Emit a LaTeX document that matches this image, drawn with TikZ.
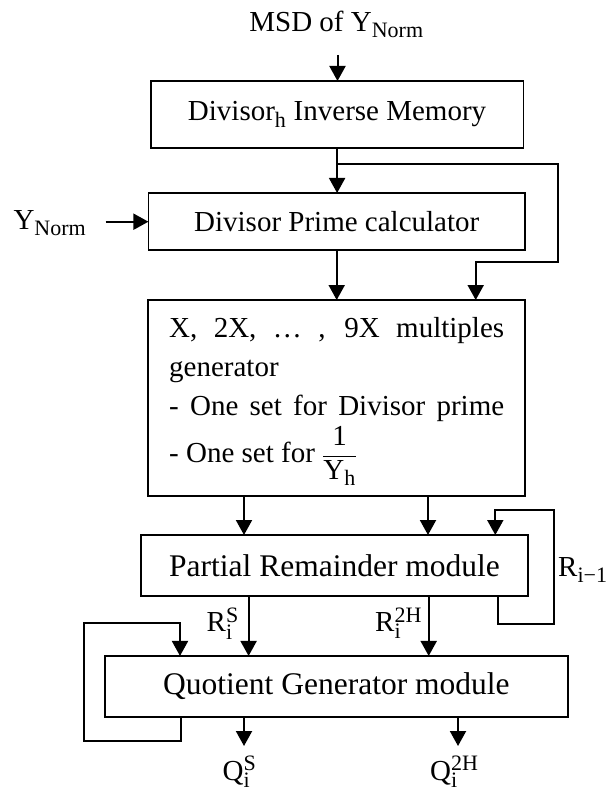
\documentclass[tikz,border=0pt]{standalone}
\usepackage{fontspec}
\setmainfont{Liberation Serif}
\usetikzlibrary{arrows.meta}
% small upright letters for indices of the signal names
\newcommand\idx[1]{\hbox{\fontsize{22}{22}\selectfont #1}}

\begin{document}
\begin{tikzpicture}[x=1pt,y=-1pt,
  txt/.style={font=\fontsize{29}{39}\selectfont},
  bigtxt/.style={font=\fontsize{31.5}{38}\selectfont},
  blk/.style={draw,line width=1.8pt,inner sep=0pt,outer sep=0pt,txt},
  wire/.style={line width=2pt},
  arr/.style={wire,-{Triangle[length=15pt,width=16pt]}},
  lbl/.style={inner sep=0pt,txt}]
\useasboundingbox (0,0) rectangle (614,791);

% processing blocks
\node[blk,minimum width=372.8pt,minimum height=67pt] (inv) at (337.1,114.5)
  {Divisor$_{\idx{h}}$ Inverse Memory};
\node[blk,minimum width=376.6pt,minimum height=57pt] (prime) at (336.7,221.5)
  {Divisor Prime calculator};
\node[blk,minimum width=377pt,minimum height=196pt] (mult) at (336.5,398) {};
\node[txt,inner sep=0pt,anchor=north west,text width=335pt,align=justify] (multtxt) at (169,317.2)
  {\tolerance=10000\hyphenpenalty=10000 X, 2X, … , 9X multiples generator\newline
   - One set for Divisor prime\linebreak
   \rule{0pt}{39.4pt}- One set for $\displaystyle\frac{\mathrm{1}}{\mathrm{Y}_{\idx{h}}}$\par};
\node[blk,bigtxt,minimum width=387pt,minimum height=61pt] (prm) at (334.5,565.5)
  {Partial Remainder module};
\node[blk,bigtxt,minimum width=462.7pt,minimum height=60.7pt] (qgen) at (336.4,686.3)
  {Quotient Generator module};

% signal labels
\node[lbl,anchor=base] (msd) at (336.5,32) {MSD of $\mathrm{Y}_{\idx{Norm}}$};
\node[lbl,anchor=base west] (ynorm) at (13.3,230) {$\mathrm{Y}_{\idx{Norm}}$};
\node[lbl,anchor=base west] (rprev) at (558,576) {$\mathrm{R}_{\idx{i−1}}$};
\node[lbl,anchor=base west] (rs) at (206.5,631.7) {$\mathrm{R}_{\idx{i}}^{\idx{S}}$};
\node[lbl,anchor=base west] (rh) at (375,631.7) {$\mathrm{R}_{\idx{i}}^{\idx{2H}}$};
\node[lbl,anchor=base west] (qs) at (222.5,780) {$\mathrm{Q}_{\idx{i}}^{\idx{S}}$};
\node[lbl,anchor=base west] (qh) at (430,780) {$\mathrm{Q}_{\idx{i}}^{\idx{2H}}$};

% helper points for the wires
\coordinate (msdtip) at (337.5,55);
\coordinate (split) at (337.1,164);
\coordinate (jog) at (475.7,261.7);
\coordinate (ytip) at (105.7,221.7);
\coordinate (ca) at (244,0);
\coordinate (cb) at (428,0);
\coordinate (cc) at (248.6,0);
\coordinate (cd) at (428.7,0);
\coordinate (rl1) at (498.4,624);
\coordinate (rl2) at (554,510);
\coordinate (rl3) at (495.3,510);
\coordinate (ll1) at (181,740.7);
\coordinate (ll2) at (84,623.3);
\coordinate (ll3) at (180,623.3);
\coordinate (qa) at (244,746);
\coordinate (qb) at (458,746);

% wires
\draw[arr] (msdtip) -- (msdtip |- inv.north);
\draw[arr] (inv.south) -- (inv.south |- prime.north);
\draw[arr] (split) -- (558,164) -- (558,261.7) -- (jog) -- (jog |- mult.north);
\draw[arr] (ytip) -- (ytip -| prime.west);
\draw[arr] (prime.south) -- (prime.south |- mult.north);
\draw[arr] (mult.south -| ca) -- (prm.north -| ca);
\draw[arr] (mult.south -| cb) -- (prm.north -| cb);
\draw[arr] (prm.south -| rl1) -- (rl1) -| (rl2) -- (rl3) -- (rl3 |- prm.north);
\draw[arr] (prm.south -| cc) -- (qgen.north -| cc);
\draw[arr] (prm.south -| cd) -- (qgen.north -| cd);
\draw[arr] (qgen.south -| ll1) -- (ll1) -| (ll2) -- (ll3) -- (ll3 |- qgen.north);
\draw[arr] (qgen.south -| qa) -- (qa);
\draw[arr] (qgen.south -| qb) -- (qb);
\end{tikzpicture}
\end{document}
